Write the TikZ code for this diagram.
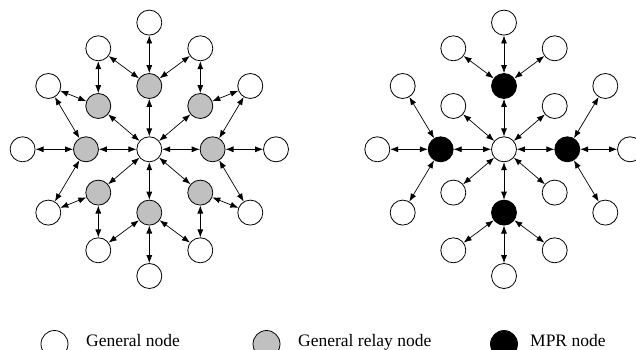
\documentclass[tikz,border=0pt]{standalone}
\usepackage{fontspec}
\setmainfont{Liberation Serif}
\usetikzlibrary{arrows.meta}
\definecolor{relaygray}{RGB}{192,192,192}
\begin{document}
\begin{tikzpicture}[x=1pt,y=-1pt,
  nd/.style={circle,draw=black,line width=0.8pt,minimum size=25pt,inner sep=0pt,fill=white},
  relay/.style={nd,fill=relaygray},
  mpr/.style={nd,fill=black},
  link/.style={line width=0.7pt,{Latex[length=8pt,width=6pt]}-{Latex[length=8pt,width=6pt]}},
  lbl/.style={anchor=base west,font=\fontsize{17.5}{20}\selectfont,inner sep=0pt}]
\clip (0,0) rectangle (636,350);
\useasboundingbox (0,0) rectangle (636,350);

% ---------- left diagram ----------
\begin{scope}[shift={(149.3,149.3)}]
  \node[nd] (L-c) at (0,0) {};
  \foreach \nm/\x/\y in {n/0/-63.3, w/-63.3/0, e/63.3/0, s/0/63.3,
                         nw/-51/-43.3, ne/51/-43.3, sw/-51/43.3, se/51/43.3}
    \node[relay] (L-\nm) at (\x,\y) {};
  \foreach \nm/\x/\y in {on/0/-126.7, onnw/-51/-101, onne/51/-101,
                         ownw/-101/-63.3, oene/101/-63.3, ow/-126.7/0, oe/126.7/0,
                         owsw/-101/63.3, oese/101/63.3, ossw/-51/101, osse/51/101, os/0/126.7}
    \node[nd] (L-\nm) at (\x,\y) {};
  \foreach \a/\b in {c/n, c/w, c/e, c/s, c/nw, c/ne, c/sw, c/se,
                     n/on, n/onnw, n/onne, nw/onnw, nw/ownw, ne/onne, ne/oene,
                     w/ow, w/ownw, w/owsw, e/oe, e/oene, e/oese,
                     sw/owsw, sw/ossw, s/os, s/ossw, s/osse, se/oese, se/osse}
    \draw[link] (L-\a) -- (L-\b);
\end{scope}

% ---------- right diagram ----------
\begin{scope}[shift={(504,149.3)}]
  \node[nd] (R-c) at (0,0) {};
  \foreach \nm/\x/\y in {n/0/-63.3, w/-63.3/0, e/63.3/0, s/0/63.3}
    \node[mpr] (R-\nm) at (\x,\y) {};
  \foreach \nm/\x/\y in {nw/-50.7/-43.3, ne/50.7/-43.3, sw/-50.7/43.3, se/50.7/43.3,
                         on/0/-126.7, onnw/-50.7/-101, onne/50.7/-101,
                         ownw/-101.3/-63.3, oene/101.3/-63.3, ow/-126.7/0, oe/126/0,
                         owsw/-101.3/63.3, oese/101.3/63.3, ossw/-50.7/101, osse/50.7/101, os/0/126.7}
    \node[nd] (R-\nm) at (\x,\y) {};
  \foreach \a/\b in {c/n, c/w, c/e, c/s, c/nw, c/ne, c/sw, c/se,
                     n/on, n/onnw, n/onne, w/ow, w/ownw, w/owsw,
                     e/oe, e/oene, e/oese, s/os, s/ossw, s/osse}
    \draw[link] (R-\a) -- (R-\b);
\end{scope}

% ---------- legend ----------
\node[nd,minimum size=27pt] (lg1) at (54.5,344) {};
\node[lbl] (lt1) at (86,346.5) {General node};
\node[relay,minimum size=27pt] (lg2) at (266.5,344) {};
\node[lbl] (lt2) at (298,346.5) {General relay node};
\node[mpr,minimum size=27pt] (lg3) at (504,344) {};
\node[lbl] (lt3) at (530,346.5) {MPR node};
\end{tikzpicture}
\end{document}
